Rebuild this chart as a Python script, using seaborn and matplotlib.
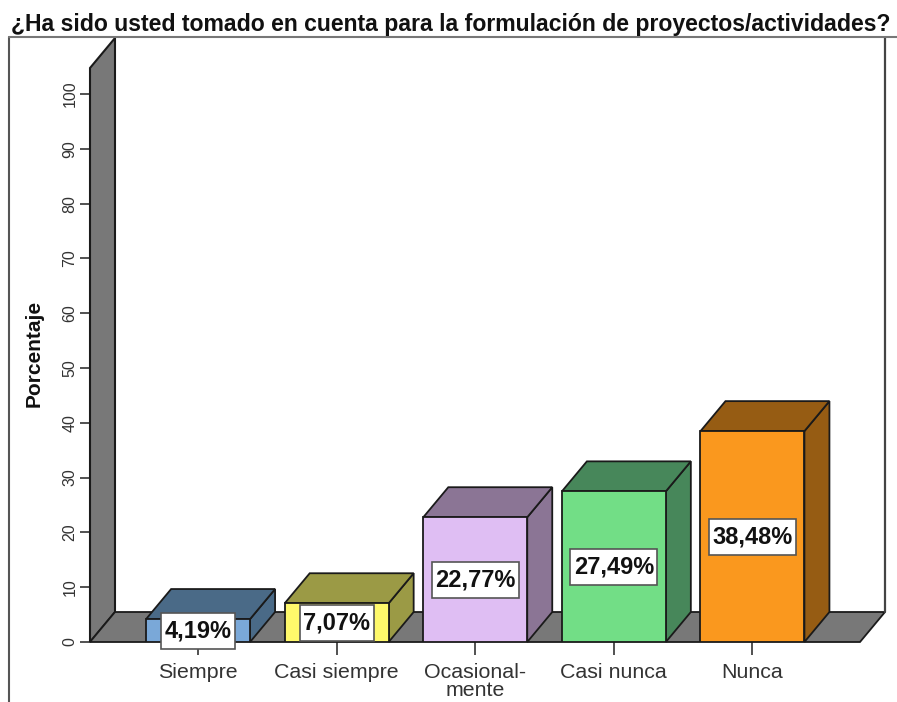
import matplotlib
matplotlib.use('Agg')
import matplotlib.pyplot as plt
import pandas as pd
import seaborn as sns
from matplotlib.patches import Polygon, Rectangle

categories = ['Siempre', 'Casi siempre', 'Ocasional-\nmente', 'Casi nunca', 'Nunca']
values = [4.19, 7.07, 22.77, 27.49, 38.48]
front_colors = ['#7AA8D8', '#FFF96B', '#DFBEF3', '#72DE86', '#FA981E']
side_colors = ['#4A6A87', '#9B9A45', '#8B7595', '#47875A', '#965C13']
y_ticks = list(range(0, 101, 10))
title = '¿Ha sido usted tomado en cuenta para la formulación de proyectos/actividades?'

W, H = 897, 702
sns.set_theme(style='white')
plt.rcParams['font.family'] = ['Liberation Sans', 'DejaVu Sans']

fig = plt.figure(figsize=(W / 100, H / 100), dpi=100, facecolor='white')
# axes box in pixels: the front edge of the wall and floor
ax = fig.add_axes([90 / W, 1 - 642 / H, 770 / W, 574 / H])

df = pd.DataFrame({'categoria': categories, 'porcentaje': values})
sns.barplot(data=df, x='categoria', y='porcentaje', hue='categoria', palette=front_colors, saturation=1,
            legend=False, width=0.75, edgecolor='#1a1a1a', linewidth=1.3, ax=ax, zorder=5)

ax.set_xlim(-0.78, 4.776)
ax.set_ylim(0, 574 / 5.48)
ax.set_facecolor('none')

# depth of the 3d look, in data units
dx = 25 / 138.6
dy = 30 / 5.48
x0, x1 = ax.get_xlim()
y1 = ax.get_ylim()[1]
edge = '#1a1a1a'

# wall and floor
ax.add_patch(Polygon([(x0, 0), (x0 + dx, dy), (x0 + dx, y1 + dy), (x0, y1)], closed=True, facecolor='#787878',
                     edgecolor=edge, linewidth=1.5, clip_on=False, zorder=1))
ax.add_patch(Polygon([(x0, 0), (x1, 0), (x1 + dx, dy), (x0 + dx, dy)], closed=True, facecolor='#787878',
                     edgecolor=edge, linewidth=1.3, clip_on=False, zorder=1))
ax.plot([x1 + dx, x1 + dx], [dy, y1 + dy], color='#444444', lw=1.6, clip_on=False, zorder=1)

# sides and tops of the bars
renderer = fig.canvas.get_renderer()
for bar, side, v in zip(ax.patches[:len(values)], side_colors, values):
    left = bar.get_x()
    right = left + bar.get_width()
    mid = left + bar.get_width() / 2
    ax.add_patch(Polygon([(right, 0), (right + dx, dy), (right + dx, v + dy), (right, v)], closed=True,
                         facecolor=side, edgecolor=edge, linewidth=1.3, clip_on=False, zorder=4))
    ax.add_patch(Polygon([(left, v), (right, v), (right + dx, v + dy), (left + dx, v + dy)], closed=True,
                         facecolor=side, edgecolor=edge, linewidth=1.3, clip_on=False, zorder=4))
    t = ax.text(mid, v / 2, f'{v:.2f}%'.replace('.', ','), ha='center', va='center',
                fontsize=17, fontweight='bold', color='#111111', zorder=8)
    # label box wider than the text by a few pixels, fixed height
    half_w = (t.get_window_extent(renderer).width + 7) / 2 / 138.6
    half_h = 18 / 5.48
    ax.add_patch(Rectangle((mid - half_w, v / 2 - half_h), half_w * 2, half_h * 2, facecolor='white',
                           edgecolor='#555555', linewidth=1.2, clip_on=False, zorder=7))

sns.despine(ax=ax, top=True, right=True, left=True, bottom=True)
ax.set_yticks(y_ticks)
ax.set_yticklabels([str(t) for t in y_ticks], rotation=90, va='center', fontsize=11.5, color='#333333')
ax.set_xticks(range(len(categories)))
ax.set_xticklabels(categories, fontsize=15.4, color='#333333', linespacing=0.95)
ax.tick_params(axis='y', left=True, length=7, width=1.2, color='#333333', pad=2)
ax.tick_params(axis='x', bottom=True, length=9.5, width=1.2, color='#333333', pad=5.5)
ax.set_xlabel('')
ax.set_ylabel('Porcentaje', fontsize=15, fontweight='bold', color='#111111')
ax.yaxis.set_label_coords((44 - 90) / 770, (642 - 353) / 574)

# outer frame of the chart area, left and top only
fig.add_artist(plt.Line2D([9 / W, 9 / W], [0, 1 - 37 / H], color='#555555', lw=1.5))
fig.add_artist(plt.Line2D([9 / W, 1], [1 - 37 / H, 1 - 37 / H], color='#777777', lw=1.5))

fig.text(451 / W, 1 - 24 / H, title, ha='center', va='center', fontsize=16.6, fontweight='bold', color='#111111')

fig.savefig('out.png', dpi=100)
